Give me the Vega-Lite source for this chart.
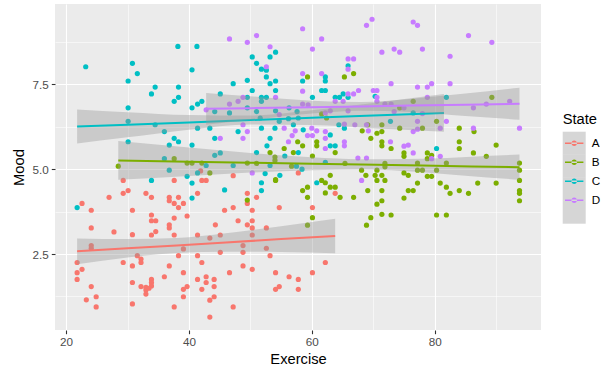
{
"$schema":"https://vega.github.io/schema/vega-lite/v6.json",
"width":486,"height":326,
"autosize":{"type":"none"},
"padding":{"left":55,"top":4,"right":72,"bottom":46},
"background":"white",
"config":{
 "view":{"fill":"#EBEBEB","stroke":null},
 "font":"Liberation Sans",
 "axis":{"gridColor":"#FFFFFF","domain":false,"tickColor":"#333333","tickSize":3.7,"tickWidth":1.1,"labelColor":"#4D4D4D","labelFontSize":11.7,"labelPadding":3,"titleFontSize":14.7,"titleFontWeight":"normal","titleColor":"#000000"},
 "legend":{"titleFontSize":14.7,"titleFontWeight":"normal","titleColor":"#000000","labelFontSize":11.7,"labelColor":"#000000","padding":0,"rowPadding":0,"titlePadding":5,"labelOffset":6,"orient":"none","legendX":507.7,"legendY":108}
},
"datasets":{
"pts":[
{"State":"A","Exercise":24.1,"Mood":3.27},{"State":"A","Exercise":27.8,"Mood":3.15},{"State":"A","Exercise":30.8,"Mood":3.07},{"State":"A","Exercise":33.9,"Mood":3.48},{"State":"A","Exercise":34.6,"Mood":3.48},{"State":"A","Exercise":33.9,"Mood":3.06},{"State":"A","Exercise":34.6,"Mood":3.16},{"State":"A","Exercise":36.8,"Mood":3.36},{"State":"A","Exercise":36.8,"Mood":3.27},{"State":"A","Exercise":37.6,"Mood":3.56},{"State":"A","Exercise":37.6,"Mood":3.06},{"State":"A","Exercise":39.7,"Mood":3.62},{"State":"A","Exercise":41.4,"Mood":3.06},{"State":"A","Exercise":43.4,"Mood":2.97},{"State":"A","Exercise":24.1,"Mood":2.75},{"State":"A","Exercise":24.1,"Mood":2.67},{"State":"A","Exercise":31.6,"Mood":2.45},{"State":"A","Exercise":29.3,"Mood":2.25},{"State":"A","Exercise":32.2,"Mood":2.35},{"State":"A","Exercise":32.2,"Mood":2.25},{"State":"A","Exercise":30.8,"Mood":2.15},{"State":"A","Exercise":21.8,"Mood":2.25},{"State":"A","Exercise":22.6,"Mood":2.05},{"State":"A","Exercise":21.8,"Mood":1.95},{"State":"A","Exercise":21.8,"Mood":1.75},{"State":"A","Exercise":36.8,"Mood":2.15},{"State":"A","Exercise":38.3,"Mood":2.45},{"State":"A","Exercise":39.1,"Mood":2.65},{"State":"A","Exercise":41.4,"Mood":2.45},{"State":"A","Exercise":42.1,"Mood":2.25},{"State":"A","Exercise":39.1,"Mood":1.95},{"State":"A","Exercise":36.0,"Mood":1.83},{"State":"A","Exercise":33.9,"Mood":1.75},{"State":"A","Exercise":33.9,"Mood":1.66},{"State":"A","Exercise":33.9,"Mood":1.56},{"State":"A","Exercise":32.2,"Mood":1.54},{"State":"A","Exercise":33.0,"Mood":1.52},{"State":"A","Exercise":33.0,"Mood":1.44},{"State":"A","Exercise":33.0,"Mood":1.32},{"State":"A","Exercise":33.5,"Mood":1.49},{"State":"A","Exercise":30.8,"Mood":1.66},{"State":"A","Exercise":24.1,"Mood":1.54},{"State":"A","Exercise":23.3,"Mood":1.15},{"State":"A","Exercise":24.9,"Mood":1.24},{"State":"A","Exercise":24.9,"Mood":0.94},{"State":"A","Exercise":30.8,"Mood":1.03},{"State":"A","Exercise":37.6,"Mood":0.94},{"State":"A","Exercise":39.1,"Mood":1.24},{"State":"A","Exercise":39.1,"Mood":1.46},{"State":"A","Exercise":39.7,"Mood":1.54},{"State":"A","Exercise":41.4,"Mood":1.75},{"State":"A","Exercise":42.1,"Mood":1.46},{"State":"A","Exercise":42.8,"Mood":1.83},{"State":"A","Exercise":42.8,"Mood":1.66},{"State":"A","Exercise":44.1,"Mood":1.75},{"State":"A","Exercise":44.1,"Mood":1.54},{"State":"A","Exercise":43.4,"Mood":1.14},{"State":"A","Exercise":44.1,"Mood":1.24},{"State":"A","Exercise":43.4,"Mood":0.64},
{"State":"A","Exercise":29.3,"Mood":4.67},{"State":"A","Exercise":30.1,"Mood":4.37},{"State":"A","Exercise":29.3,"Mood":4.29},{"State":"A","Exercise":27.0,"Mood":4.17},{"State":"A","Exercise":33.0,"Mood":4.29},{"State":"A","Exercise":33.9,"Mood":4.17},{"State":"A","Exercise":22.6,"Mood":3.99},{"State":"A","Exercise":24.1,"Mood":3.79},{"State":"A","Exercise":30.8,"Mood":3.79},{"State":"A","Exercise":36.8,"Mood":4.17},{"State":"A","Exercise":36.8,"Mood":4.07},{"State":"A","Exercise":37.6,"Mood":3.99},{"State":"A","Exercise":38.3,"Mood":4.17},{"State":"A","Exercise":38.3,"Mood":3.87},{"State":"A","Exercise":39.1,"Mood":3.99},{"State":"A","Exercise":37.6,"Mood":4.67},{"State":"A","Exercise":41.4,"Mood":4.29},{"State":"A","Exercise":42.1,"Mood":4.67},{"State":"A","Exercise":42.8,"Mood":4.67},{"State":"A","Exercise":33.9,"Mood":3.65},{"State":"A","Exercise":41.9,"Mood":4.95},
{"State":"A","Exercise":44.3,"Mood":3.36},{"State":"A","Exercise":48.0,"Mood":3.48},{"State":"A","Exercise":49.5,"Mood":3.36},{"State":"A","Exercise":50.3,"Mood":3.48},{"State":"A","Exercise":50.3,"Mood":3.27},{"State":"A","Exercise":50.3,"Mood":3.06},{"State":"A","Exercise":45.1,"Mood":3.06},{"State":"A","Exercise":52.6,"Mood":3.27},{"State":"A","Exercise":48.8,"Mood":2.75},{"State":"A","Exercise":48.8,"Mood":2.55},{"State":"A","Exercise":45.1,"Mood":2.55},{"State":"A","Exercise":52.6,"Mood":2.67},{"State":"A","Exercise":53.2,"Mood":2.45},{"State":"A","Exercise":62.2,"Mood":2.25},{"State":"A","Exercise":48.8,"Mood":2.15},{"State":"A","Exercise":50.3,"Mood":2.05},{"State":"A","Exercise":46.6,"Mood":1.95},{"State":"A","Exercise":54.1,"Mood":1.95},{"State":"A","Exercise":56.3,"Mood":1.83},{"State":"A","Exercise":57.8,"Mood":1.75},{"State":"A","Exercise":60.1,"Mood":1.95},{"State":"A","Exercise":54.1,"Mood":1.46},{"State":"A","Exercise":54.7,"Mood":1.54},{"State":"A","Exercise":57.8,"Mood":1.46},{"State":"A","Exercise":47.2,"Mood":0.94},{"State":"A","Exercise":47.2,"Mood":4.81},{"State":"A","Exercise":57.8,"Mood":4.89},{"State":"A","Exercise":49.5,"Mood":4.29},{"State":"A","Exercise":49.5,"Mood":3.99},{"State":"A","Exercise":51.0,"Mood":4.17},{"State":"A","Exercise":45.8,"Mood":3.79},{"State":"A","Exercise":47.2,"Mood":3.87},{"State":"A","Exercise":50.3,"Mood":3.79},{"State":"A","Exercise":54.7,"Mood":3.87},{"State":"A","Exercise":60.1,"Mood":3.87},{"State":"A","Exercise":63.8,"Mood":4.29},
{"State":"B","Exercise":28.5,"Mood":5.09},{"State":"B","Exercise":37.6,"Mood":5.31},{"State":"B","Exercise":39.7,"Mood":5.18},{"State":"B","Exercise":40.5,"Mood":5.18},{"State":"B","Exercise":42.1,"Mood":5.18},{"State":"B","Exercise":43.4,"Mood":4.89},{"State":"B","Exercise":49.5,"Mood":4.09},{"State":"B","Exercise":54.1,"Mood":4.69},{"State":"B","Exercise":61.6,"Mood":6.63},{"State":"B","Exercise":62.4,"Mood":6.51},{"State":"B","Exercise":69.1,"Mood":6.31},{"State":"B","Exercise":71.4,"Mood":6.31},{"State":"B","Exercise":68.2,"Mood":6.13},{"State":"B","Exercise":70.6,"Mood":6.06},{"State":"B","Exercise":69.6,"Mood":5.91},{"State":"B","Exercise":71.4,"Mood":5.81},{"State":"B","Exercise":71.4,"Mood":5.69},{"State":"B","Exercise":60.8,"Mood":5.81},{"State":"B","Exercise":60.8,"Mood":5.69},{"State":"B","Exercise":57.7,"Mood":5.81},{"State":"B","Exercise":58.5,"Mood":5.69},{"State":"B","Exercise":63.8,"Mood":5.49},{"State":"B","Exercise":55.5,"Mood":5.61},{"State":"B","Exercise":53.2,"Mood":5.49},{"State":"B","Exercise":57.0,"Mood":5.49},{"State":"B","Exercise":60.1,"Mood":5.39},{"State":"B","Exercise":54.0,"Mood":5.36},{"State":"B","Exercise":54.0,"Mood":5.26},{"State":"B","Exercise":51.0,"Mood":5.17},{"State":"B","Exercise":65.4,"Mood":5.17},{"State":"B","Exercise":71.9,"Mood":5.17},{"State":"B","Exercise":56.7,"Mood":5.09},{"State":"B","Exercise":68.1,"Mood":4.97},{"State":"B","Exercise":70.3,"Mood":4.82},{"State":"B","Exercise":71.4,"Mood":4.82},{"State":"B","Exercise":68.8,"Mood":4.82},{"State":"B","Exercise":54.1,"Mood":4.67},{"State":"B","Exercise":61.6,"Mood":4.67},{"State":"B","Exercise":62.2,"Mood":4.6},{"State":"B","Exercise":63.0,"Mood":4.82},{"State":"B","Exercise":63.0,"Mood":4.47},{"State":"B","Exercise":63.8,"Mood":4.47},{"State":"B","Exercise":59.3,"Mood":4.47},{"State":"B","Exercise":58.5,"Mood":4.37},{"State":"B","Exercise":62.2,"Mood":4.3},{"State":"B","Exercise":64.6,"Mood":4.17},{"State":"B","Exercise":66.8,"Mood":4.17},{"State":"B","Exercise":69.1,"Mood":4.37},{"State":"B","Exercise":70.6,"Mood":4.67},{"State":"B","Exercise":71.4,"Mood":4.37},{"State":"B","Exercise":59.3,"Mood":4.17},{"State":"B","Exercise":70.6,"Mood":3.97},{"State":"B","Exercise":71.4,"Mood":4.07},{"State":"B","Exercise":60.1,"Mood":3.57},{"State":"B","Exercise":69.6,"Mood":3.57},{"State":"B","Exercise":71.4,"Mood":3.67},
{"State":"B","Exercise":74.3,"Mood":6.21},{"State":"B","Exercise":72.9,"Mood":5.61},{"State":"B","Exercise":75.0,"Mood":5.48},{"State":"B","Exercise":75.0,"Mood":5.38},{"State":"B","Exercise":78.0,"Mood":6.21},{"State":"B","Exercise":78.8,"Mood":5.48},{"State":"B","Exercise":79.5,"Mood":5.41},{"State":"B","Exercise":78.8,"Mood":5.31},{"State":"B","Exercise":80.3,"Mood":6.41},{"State":"B","Exercise":84.0,"Mood":6.21},{"State":"B","Exercise":84.0,"Mood":5.81},{"State":"B","Exercise":84.0,"Mood":5.61},{"State":"B","Exercise":86.4,"Mood":6.11},{"State":"B","Exercise":86.3,"Mood":5.48},{"State":"B","Exercise":88.4,"Mood":5.38},{"State":"B","Exercise":90.0,"Mood":5.71},{"State":"B","Exercise":77.2,"Mood":5.18},{"State":"B","Exercise":81.9,"Mood":5.18},{"State":"B","Exercise":71.9,"Mood":5.07},{"State":"B","Exercise":70.6,"Mood":4.97},{"State":"B","Exercise":75.0,"Mood":4.89},{"State":"B","Exercise":75.7,"Mood":4.82},{"State":"B","Exercise":77.2,"Mood":4.97},{"State":"B","Exercise":78.0,"Mood":4.97},{"State":"B","Exercise":80.3,"Mood":4.97},{"State":"B","Exercise":78.8,"Mood":4.79},{"State":"B","Exercise":79.5,"Mood":4.79},{"State":"B","Exercise":71.9,"Mood":4.67},{"State":"B","Exercise":77.2,"Mood":4.59},{"State":"B","Exercise":80.9,"Mood":4.59},{"State":"B","Exercise":81.9,"Mood":4.47},{"State":"B","Exercise":82.5,"Mood":4.29},{"State":"B","Exercise":84.0,"Mood":4.37},{"State":"B","Exercise":85.5,"Mood":4.29},{"State":"B","Exercise":87.0,"Mood":4.59},{"State":"B","Exercise":90.0,"Mood":4.59},{"State":"B","Exercise":75.7,"Mood":4.37},{"State":"B","Exercise":76.5,"Mood":4.37},{"State":"B","Exercise":75.0,"Mood":4.15},{"State":"B","Exercise":72.9,"Mood":3.65},{"State":"B","Exercise":80.3,"Mood":3.65},{"State":"B","Exercise":81.9,"Mood":3.65},{"State":"B","Exercise":93.8,"Mood":5.18},{"State":"B","Exercise":93.8,"Mood":4.97},{"State":"B","Exercise":93.8,"Mood":4.67},{"State":"B","Exercise":93.8,"Mood":4.37},{"State":"B","Exercise":93.8,"Mood":4.29},{"State":"B","Exercise":93.8,"Mood":4.07},{"State":"B","Exercise":76.5,"Mood":7.0},{"State":"B","Exercise":89.3,"Mood":7.12},{"State":"B","Exercise":74.3,"Mood":6.81},{"State":"B","Exercise":59.3,"Mood":7.72},{"State":"B","Exercise":65.3,"Mood":7.72},{"State":"B","Exercise":66.8,"Mood":7.82},{"State":"B","Exercise":59.3,"Mood":3.35},{"State":"B","Exercise":68.9,"Mood":3.35},{"State":"B","Exercise":49.5,"Mood":5.18},{"State":"B","Exercise":71.4,"Mood":6.11},
{"State":"C","Exercise":21.8,"Mood":3.87},{"State":"C","Exercise":23.2,"Mood":8.02},{"State":"C","Exercise":38.2,"Mood":8.62},{"State":"C","Exercise":41.3,"Mood":8.62},{"State":"C","Exercise":30.8,"Mood":8.12},{"State":"C","Exercise":31.6,"Mood":7.82},{"State":"C","Exercise":30.1,"Mood":7.6},{"State":"C","Exercise":40.5,"Mood":7.93},{"State":"C","Exercise":34.5,"Mood":7.42},{"State":"C","Exercise":33.9,"Mood":7.22},{"State":"C","Exercise":38.3,"Mood":7.42},{"State":"C","Exercise":38.3,"Mood":7.12},{"State":"C","Exercise":37.6,"Mood":7.0},{"State":"C","Exercise":30.1,"Mood":6.81},{"State":"C","Exercise":40.5,"Mood":6.81},{"State":"C","Exercise":41.4,"Mood":6.92},{"State":"C","Exercise":42.1,"Mood":7.0},{"State":"C","Exercise":33.9,"Mood":4.67},{"State":"C","Exercise":30.1,"Mood":5.81},{"State":"C","Exercise":30.1,"Mood":6.41},{"State":"C","Exercise":36.0,"Mood":6.11},{"State":"C","Exercise":36.8,"Mood":5.71},{"State":"C","Exercise":37.6,"Mood":5.91},{"State":"C","Exercise":38.3,"Mood":5.81},{"State":"C","Exercise":40.5,"Mood":5.71},{"State":"C","Exercise":41.4,"Mood":6.21},{"State":"C","Exercise":36.0,"Mood":5.31},{"State":"C","Exercise":36.8,"Mood":4.97},{"State":"C","Exercise":39.7,"Mood":4.79},{"State":"C","Exercise":40.5,"Mood":4.59},{"State":"C","Exercise":40.5,"Mood":4.15},{"State":"C","Exercise":41.4,"Mood":4.89},{"State":"C","Exercise":42.8,"Mood":5.11},{"State":"C","Exercise":43.4,"Mood":6.21},{"State":"C","Exercise":34.5,"Mood":6.31},
{"State":"C","Exercise":50.3,"Mood":8.31},{"State":"C","Exercise":53.2,"Mood":8.31},{"State":"C","Exercise":54.1,"Mood":8.45},{"State":"C","Exercise":51.0,"Mood":8.12},{"State":"C","Exercise":51.8,"Mood":7.95},{"State":"C","Exercise":52.6,"Mood":7.92},{"State":"C","Exercise":52.6,"Mood":7.72},{"State":"C","Exercise":53.2,"Mood":7.52},{"State":"C","Exercise":54.1,"Mood":7.6},{"State":"C","Exercise":49.5,"Mood":7.62},{"State":"C","Exercise":47.2,"Mood":7.52},{"State":"C","Exercise":45.1,"Mood":7.22},{"State":"C","Exercise":50.3,"Mood":7.32},{"State":"C","Exercise":49.5,"Mood":7.12},{"State":"C","Exercise":51.8,"Mood":7.12},{"State":"C","Exercise":52.6,"Mood":7.12},{"State":"C","Exercise":51.8,"Mood":7.0},{"State":"C","Exercise":54.1,"Mood":7.32},{"State":"C","Exercise":58.5,"Mood":7.6},{"State":"C","Exercise":60.1,"Mood":7.12},{"State":"C","Exercise":61.6,"Mood":7.32},{"State":"C","Exercise":62.2,"Mood":7.32},{"State":"C","Exercise":62.2,"Mood":7.72},{"State":"C","Exercise":62.2,"Mood":7.6},{"State":"C","Exercise":65.9,"Mood":8.05},{"State":"C","Exercise":63.8,"Mood":7.12},{"State":"C","Exercise":64.5,"Mood":7.12},{"State":"C","Exercise":65.1,"Mood":7.22},{"State":"C","Exercise":65.9,"Mood":7.12},{"State":"C","Exercise":44.2,"Mood":6.7},{"State":"C","Exercise":46.6,"Mood":6.66},{"State":"C","Exercise":49.5,"Mood":6.81},{"State":"C","Exercise":51.0,"Mood":6.7},{"State":"C","Exercise":54.1,"Mood":6.72},{"State":"C","Exercise":56.3,"Mood":6.81},{"State":"C","Exercise":57.6,"Mood":6.7},
{"State":"C","Exercise":70.3,"Mood":7.15},{"State":"C","Exercise":57.8,"Mood":6.51},{"State":"C","Exercise":51.6,"Mood":6.51},{"State":"C","Exercise":54.7,"Mood":6.41},{"State":"C","Exercise":56.2,"Mood":6.49},{"State":"C","Exercise":57.0,"Mood":6.31},{"State":"C","Exercise":51.8,"Mood":6.21},{"State":"C","Exercise":54.0,"Mood":6.21},{"State":"C","Exercise":58.6,"Mood":6.16},{"State":"C","Exercise":64.4,"Mood":6.31},{"State":"C","Exercise":65.3,"Mood":6.21},{"State":"C","Exercise":53.2,"Mood":5.91},{"State":"C","Exercise":63.0,"Mood":6.01},{"State":"C","Exercise":63.0,"Mood":5.69},{"State":"C","Exercise":63.8,"Mood":5.69},{"State":"C","Exercise":52.7,"Mood":5.69},{"State":"C","Exercise":57.8,"Mood":5.49},{"State":"C","Exercise":55.6,"Mood":5.39},{"State":"C","Exercise":51.0,"Mood":5.49},{"State":"C","Exercise":52.4,"Mood":4.87},{"State":"C","Exercise":54.8,"Mood":4.82},{"State":"C","Exercise":62.2,"Mood":5.2},{"State":"C","Exercise":57.5,"Mood":5.09},{"State":"C","Exercise":58.4,"Mood":5.0},{"State":"C","Exercise":60.8,"Mood":4.6},{"State":"C","Exercise":51.8,"Mood":4.6},{"State":"C","Exercise":51.8,"Mood":4.37},{"State":"C","Exercise":44.2,"Mood":5.91},{"State":"C","Exercise":44.2,"Mood":5.41},{"State":"C","Exercise":45.1,"Mood":5.48},{"State":"C","Exercise":48.0,"Mood":6.11},{"State":"C","Exercise":45.8,"Mood":4.39},{"State":"C","Exercise":47.2,"Mood":5.11},{"State":"C","Exercise":53.2,"Mood":5.11},{"State":"C","Exercise":72.8,"Mood":6.41},{"State":"C","Exercise":80.3,"Mood":5.61},{"State":"C","Exercise":81.9,"Mood":7.12},{"State":"C","Exercise":76.5,"Mood":6.66},
{"State":"D","Exercise":46.6,"Mood":8.84},{"State":"D","Exercise":49.5,"Mood":8.74},{"State":"D","Exercise":51.0,"Mood":8.94},{"State":"D","Exercise":53.2,"Mood":8.61},{"State":"D","Exercise":58.5,"Mood":9.14},{"State":"D","Exercise":61.6,"Mood":8.84},{"State":"D","Exercise":60.1,"Mood":8.54},{"State":"D","Exercise":68.9,"Mood":9.24},{"State":"D","Exercise":69.8,"Mood":9.42},{"State":"D","Exercise":65.9,"Mood":8.25},{"State":"D","Exercise":66.8,"Mood":8.25},{"State":"D","Exercise":65.9,"Mood":7.95},{"State":"D","Exercise":52.6,"Mood":8.02},{"State":"D","Exercise":58.5,"Mood":7.82},{"State":"D","Exercise":61.6,"Mood":7.82},{"State":"D","Exercise":48.8,"Mood":7.12},{"State":"D","Exercise":48.0,"Mood":7.0},{"State":"D","Exercise":46.6,"Mood":6.92},{"State":"D","Exercise":54.1,"Mood":7.12},{"State":"D","Exercise":58.5,"Mood":7.3},{"State":"D","Exercise":58.5,"Mood":6.92},{"State":"D","Exercise":65.9,"Mood":7.22},{"State":"D","Exercise":66.8,"Mood":7.22},{"State":"D","Exercise":67.6,"Mood":7.32},{"State":"D","Exercise":63.8,"Mood":7.0},{"State":"D","Exercise":65.1,"Mood":7.0},{"State":"D","Exercise":70.0,"Mood":7.32},{"State":"D","Exercise":63.0,"Mood":6.72},{"State":"D","Exercise":65.9,"Mood":6.72},{"State":"D","Exercise":76.5,"Mood":9.34},{"State":"D","Exercise":77.2,"Mood":9.24},{"State":"D","Exercise":85.5,"Mood":8.94},{"State":"D","Exercise":89.3,"Mood":8.74},{"State":"D","Exercise":71.4,"Mood":8.45},{"State":"D","Exercise":73.4,"Mood":8.54},{"State":"D","Exercise":74.3,"Mood":8.45},{"State":"D","Exercise":78.0,"Mood":8.54},{"State":"D","Exercise":82.5,"Mood":8.33},{"State":"D","Exercise":72.9,"Mood":7.52},{"State":"D","Exercise":77.2,"Mood":7.42},{"State":"D","Exercise":78.8,"Mood":7.42},{"State":"D","Exercise":79.5,"Mood":7.52},{"State":"D","Exercise":82.5,"Mood":7.52},{"State":"D","Exercise":70.6,"Mood":7.32},{"State":"D","Exercise":70.6,"Mood":7.12},{"State":"D","Exercise":70.6,"Mood":7.0},{"State":"D","Exercise":71.9,"Mood":6.92},{"State":"D","Exercise":72.9,"Mood":6.92},{"State":"D","Exercise":78.8,"Mood":7.12},{"State":"D","Exercise":86.3,"Mood":6.81},{"State":"D","Exercise":88.4,"Mood":6.92},{"State":"D","Exercise":92.2,"Mood":7.0},{"State":"D","Exercise":73.4,"Mood":6.7},{"State":"D","Exercise":75.0,"Mood":6.81},
{"State":"D","Exercise":59.4,"Mood":6.9},{"State":"D","Exercise":54.7,"Mood":6.61},{"State":"D","Exercise":62.2,"Mood":6.66},{"State":"D","Exercise":65.3,"Mood":6.33},{"State":"D","Exercise":55.5,"Mood":6.21},{"State":"D","Exercise":60.0,"Mood":6.21},{"State":"D","Exercise":60.8,"Mood":6.13},{"State":"D","Exercise":62.2,"Mood":6.11},{"State":"D","Exercise":57.3,"Mood":6.13},{"State":"D","Exercise":59.3,"Mood":5.99},{"State":"D","Exercise":60.1,"Mood":5.99},{"State":"D","Exercise":62.2,"Mood":5.91},{"State":"D","Exercise":56.8,"Mood":5.99},{"State":"D","Exercise":56.2,"Mood":5.81},{"State":"D","Exercise":65.3,"Mood":5.81},{"State":"D","Exercise":65.3,"Mood":5.69},{"State":"D","Exercise":62.2,"Mood":5.61},{"State":"D","Exercise":67.0,"Mood":6.31},{"State":"D","Exercise":69.2,"Mood":6.13},{"State":"D","Exercise":67.5,"Mood":5.33},{"State":"D","Exercise":68.9,"Mood":5.33},{"State":"D","Exercise":68.1,"Mood":4.67},{"State":"D","Exercise":45.1,"Mood":5.91},{"State":"D","Exercise":48.8,"Mood":5.91},{"State":"D","Exercise":49.5,"Mood":6.11},{"State":"D","Exercise":48.8,"Mood":6.31},{"State":"D","Exercise":50.3,"Mood":4.89},{"State":"D","Exercise":68.9,"Mood":6.31},{"State":"D","Exercise":78.0,"Mood":6.64},{"State":"D","Exercise":77.2,"Mood":6.41},{"State":"D","Exercise":76.5,"Mood":6.11},{"State":"D","Exercise":77.2,"Mood":6.18},{"State":"D","Exercise":81.9,"Mood":6.41},{"State":"D","Exercise":80.9,"Mood":6.21},{"State":"D","Exercise":86.3,"Mood":6.21},{"State":"D","Exercise":93.8,"Mood":6.21},{"State":"D","Exercise":72.8,"Mood":5.81},{"State":"D","Exercise":75.0,"Mood":5.68},{"State":"D","Exercise":75.7,"Mood":5.71},{"State":"D","Exercise":76.5,"Mood":5.48},{"State":"D","Exercise":79.5,"Mood":5.31},{"State":"D","Exercise":80.9,"Mood":5.38},{"State":"D","Exercise":42.8,"Mood":6.75}
],
"fits":[
{"State":"A","Band":"A","Exercise":21.8,"fit":2.58,"lo":2.2,"hi":2.96},{"State":"A","Band":"A","Exercise":30,"fit":2.67,"lo":2.4,"hi":2.94},{"State":"A","Band":"A","Exercise":38,"fit":2.75,"lo":2.53,"hi":2.97},{"State":"A","Band":"A","Exercise":46,"fit":2.84,"lo":2.57,"hi":3.11},{"State":"A","Band":"A","Exercise":55,"fit":2.94,"lo":2.56,"hi":3.32},{"State":"A","Band":"A","Exercise":63.8,"fit":3.03,"lo":2.52,"hi":3.54},
{"State":"B","Band":"B","Exercise":28.5,"fit":5.26,"lo":4.69,"hi":5.83},{"State":"B","Band":"B","Exercise":40,"fit":5.22,"lo":4.8,"hi":5.64},{"State":"B","Band":"B","Exercise":50,"fit":5.19,"lo":4.9,"hi":5.48},{"State":"B","Band":"B","Exercise":60,"fit":5.16,"lo":4.97,"hi":5.35},{"State":"B","Band":"B","Exercise":68,"fit":5.14,"lo":4.99,"hi":5.29},{"State":"B","Band":"B","Exercise":78,"fit":5.11,"lo":4.91,"hi":5.31},{"State":"B","Band":"B","Exercise":86,"fit":5.08,"lo":4.79,"hi":5.37},{"State":"B","Band":"B","Exercise":93.8,"fit":5.06,"lo":4.69,"hi":5.43},
{"State":"C","Band":"C","Exercise":21.8,"fit":6.26,"lo":5.76,"hi":6.76},{"State":"C","Band":"C","Exercise":30,"fit":6.31,"lo":5.94,"hi":6.68},{"State":"C","Band":"C","Exercise":40,"fit":6.38,"lo":6.165,"hi":6.595},{"State":"C","Band":"C","Exercise":50,"fit":6.45,"lo":6.32,"hi":6.58},{"State":"C","Band":"C","Exercise":60,"fit":6.52,"lo":6.305,"hi":6.735},{"State":"C","Band":"C","Exercise":70,"fit":6.58,"lo":6.21,"hi":6.95},{"State":"C","Band":"C","Exercise":81.5,"fit":6.66,"lo":6.105,"hi":7.215},
{"State":"D","Band":"D","Exercise":42.8,"fit":6.78,"lo":6.31,"hi":7.25},{"State":"D","Band":"D","Exercise":50,"fit":6.8,"lo":6.45,"hi":7.15},{"State":"D","Band":"D","Exercise":60,"fit":6.83,"lo":6.64,"hi":7.02},{"State":"D","Band":"D","Exercise":68,"fit":6.85,"lo":6.72,"hi":6.98},{"State":"D","Band":"D","Exercise":76,"fit":6.88,"lo":6.69,"hi":7.07},{"State":"D","Band":"D","Exercise":85,"fit":6.9,"lo":6.57,"hi":7.23},{"State":"D","Band":"D","Exercise":93.8,"fit":6.93,"lo":6.46,"hi":7.4}
]
},
"layer":[
{"data":{"name":"pts"},
 "mark":{"type":"point","filled":true,"size":27,"opacity":1},
 "encoding":{
  "x":{"field":"Exercise","type":"quantitative","title":"Exercise","scale":{"domain":[18.2,97.3],"nice":false,"zero":false},
   "axis":{"values":[20,30,40,50,60,70,80,90],"labelExpr":"datum.value % 20 === 0 ? datum.label : ''","gridWidth":{"condition":{"test":"datum.value % 20 === 0","value":1.1},"value":0.55},"tickOpacity":{"condition":{"test":"datum.value % 20 === 0","value":1},"value":0},"titlePadding":3}},
  "y":{"field":"Mood","type":"quantitative","title":"Mood","scale":{"domain":[0.26,9.87],"nice":false,"zero":false},
   "axis":{"values":[1.25,2.5,3.75,5,6.25,7.5,8.75],"format":".1f","labelExpr":"datum.value % 2.5 === 0 ? datum.label : ''","gridWidth":{"condition":{"test":"datum.value % 2.5 === 0","value":1.1},"value":0.55},"tickOpacity":{"condition":{"test":"datum.value % 2.5 === 0","value":1},"value":0},"titlePadding":6}},
  "color":{"field":"State","type":"nominal","scale":{"domain":["A","B","C","D"],"range":["#F8766D","#7CAE00","#00BFC4","#C77CFF"]},
   "legend":{"title":"State","symbolType":"M-0.8,-0.06L0.8,-0.06L0.8,0.06L-0.8,0.06Z M-0.24,0A0.24,0.24,0,1,0,0.24,0A0.24,0.24,0,1,0,-0.24,0Z","symbolSize":529,"symbolStrokeWidth":0,"symbolOpacity":1,"zindex":2,
    "encode":{"symbols":{"update":{"fill":{"scale":"color","field":"value"},"stroke":{"value":"transparent"},"strokeWidth":{"value":0}}}}}}
 }},
{"data":{"name":"fits"},"transform":[{"filter":"datum.State === 'A'"}],
 "mark":{"type":"area","opacity":0.4,"interpolate":"monotone"},
 "encoding":{"x":{"field":"Exercise","type":"quantitative","title":"Exercise"},"y":{"field":"lo","type":"quantitative","title":"Mood"},"y2":{"field":"hi"},
  "fill":{"field":"Band","type":"nominal","scale":{"range":["#999999","#999999","#999999","#999999"]},
   "legend":{"title":" ","symbolType":"square","symbolSize":529,"symbolOpacity":0.45,"symbolStrokeWidth":0,"labelExpr":"''","titleOpacity":0,"zindex":1}}}},
{"data":{"name":"fits"},"transform":[{"filter":"datum.State === 'A'"}],
 "mark":{"type":"line","strokeWidth":2},
 "encoding":{"x":{"field":"Exercise","type":"quantitative","title":"Exercise"},"y":{"field":"fit","type":"quantitative","title":"Mood"},"color":{"field":"State","type":"nominal"}}},
{"data":{"name":"fits"},"transform":[{"filter":"datum.State === 'B'"}],
 "mark":{"type":"area","opacity":0.4,"interpolate":"monotone"},
 "encoding":{"x":{"field":"Exercise","type":"quantitative","title":"Exercise"},"y":{"field":"lo","type":"quantitative","title":"Mood"},"y2":{"field":"hi"},"fill":{"field":"Band","type":"nominal"}}},
{"data":{"name":"fits"},"transform":[{"filter":"datum.State === 'B'"}],
 "mark":{"type":"line","strokeWidth":2},
 "encoding":{"x":{"field":"Exercise","type":"quantitative","title":"Exercise"},"y":{"field":"fit","type":"quantitative","title":"Mood"},"color":{"field":"State","type":"nominal"}}},
{"data":{"name":"fits"},"transform":[{"filter":"datum.State === 'C'"}],
 "mark":{"type":"area","opacity":0.4,"interpolate":"monotone"},
 "encoding":{"x":{"field":"Exercise","type":"quantitative","title":"Exercise"},"y":{"field":"lo","type":"quantitative","title":"Mood"},"y2":{"field":"hi"},"fill":{"field":"Band","type":"nominal"}}},
{"data":{"name":"fits"},"transform":[{"filter":"datum.State === 'C'"}],
 "mark":{"type":"line","strokeWidth":2},
 "encoding":{"x":{"field":"Exercise","type":"quantitative","title":"Exercise"},"y":{"field":"fit","type":"quantitative","title":"Mood"},"color":{"field":"State","type":"nominal"}}},
{"data":{"name":"fits"},"transform":[{"filter":"datum.State === 'D'"}],
 "mark":{"type":"area","opacity":0.4,"interpolate":"monotone"},
 "encoding":{"x":{"field":"Exercise","type":"quantitative","title":"Exercise"},"y":{"field":"lo","type":"quantitative","title":"Mood"},"y2":{"field":"hi"},"fill":{"field":"Band","type":"nominal"}}},
{"data":{"name":"fits"},"transform":[{"filter":"datum.State === 'D'"}],
 "mark":{"type":"line","strokeWidth":2},
 "encoding":{"x":{"field":"Exercise","type":"quantitative","title":"Exercise"},"y":{"field":"fit","type":"quantitative","title":"Mood"},"color":{"field":"State","type":"nominal"}}}
]
}
